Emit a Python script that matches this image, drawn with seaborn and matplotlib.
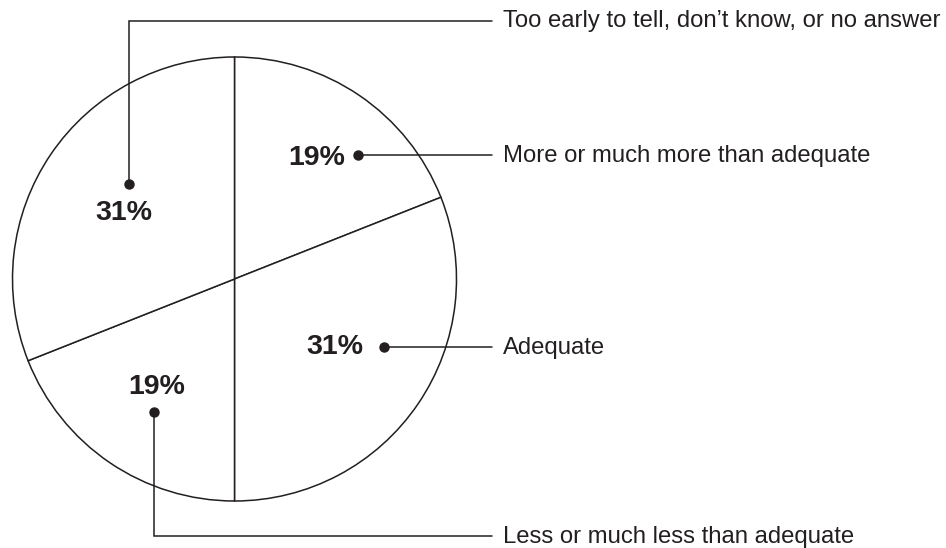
import matplotlib
matplotlib.use("Agg")
import matplotlib.pyplot as plt
import seaborn as sns

# slices, clockwise from 12 o'clock
categories = [
    "More or much more than adequate",
    "Adequate",
    "Less or much less than adequate",
    "Too early to tell, don\u2019t know, or no answer",
]
shares = [19, 31, 19, 31]
pct_labels = [f"{v}%" for v in shares]

W, H = 946, 548
INK = "#231f20"


def px(x, y):
    # image pixels (y down) -> data coords (y up)
    return x, H - y


sns.set_theme(style="white")
plt.rcParams["font.family"] = ["Liberation Sans", "DejaVu Sans"]

fig = plt.figure(figsize=(W / 100, H / 100), dpi=100)
ax = fig.add_axes([0, 0, 1, 1])

cx, cy = px(234.5, 279)
ax.pie(shares, startangle=90, counterclock=False, center=(cx, cy), radius=222,
       colors=["white"] * len(shares),
       wedgeprops=dict(edgecolor=INK, linewidth=1.1))

ax.set_xlim(0, W)
ax.set_ylim(0, H)
ax.set_aspect("equal")
ax.axis("off")

# callout layout: label centre, dot, elbow path, text row (all in pixels)
text_x = 503
line_end = 492
callouts = [
    dict(lab=(317, 158), dot=(358, 155), path=[(358, 155), (line_end, 155)], ty=156),
    dict(lab=(335, 347), dot=(384, 347), path=[(384, 347), (line_end, 347)], ty=348),
    dict(lab=(157, 387), dot=(154, 412), path=[(154, 412), (154, 536), (line_end, 536)], ty=537),
    dict(lab=(124, 213), dot=(129, 184), path=[(129, 184), (129, 21), (line_end, 21)], ty=21),
]

for cat, lab, c in zip(categories, pct_labels, callouts):
    xs, ys = zip(*[px(*p) for p in c["path"]])
    ax.plot(xs, ys, color=INK, lw=1.1, solid_joinstyle="miter")
    ax.plot(*px(*c["dot"]), "o", color=INK, ms=6.5)
    ax.text(*px(*c["lab"]), lab, ha="center", va="center", fontsize=20.5,
            fontweight="bold", color=INK)
    ax.text(*px(text_x, c["ty"]), cat, ha="left", va="center", fontsize=17.2,
            color=INK)

fig.savefig("out.png", dpi=100, facecolor="white")
